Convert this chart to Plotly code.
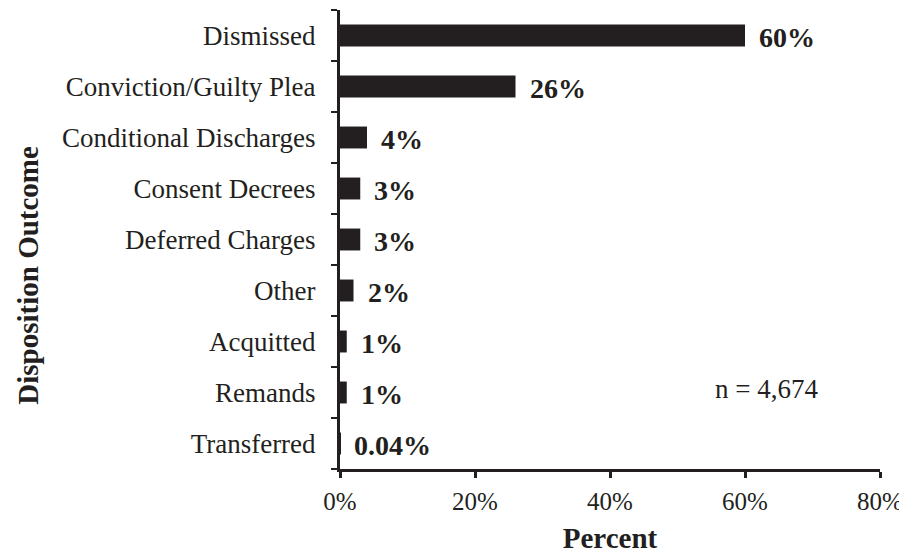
import plotly.graph_objects as go

# Data
outcomes = ["Dismissed", "Conviction/Guilty Plea", "Conditional Discharges",
            "Consent Decrees", "Deferred Charges", "Other", "Acquitted",
            "Remands", "Transferred"]
percent = [60, 26, 4, 3, 3, 2, 1, 1, 0.04]
labels = ["60%", "26%", "4%", "3%", "3%", "2%", "1%", "1%", "0.04%"]
x_ticks = [0, 20, 40, 60, 80]
x_ticktext = ["0%", "20%", "40%", "60%", "80%"]

FONT = "Liberation Serif"
INK = "#231f20"

fig = go.Figure()
fig.add_trace(go.Bar(
    x=percent, y=outcomes, orientation="h",
    marker=dict(color=INK, line=dict(width=0)),
    showlegend=False,
))

# value labels beside each bar
for v, cat, lab in zip(percent, outcomes, labels):
    fig.add_annotation(x=v, y=cat, text="<b>%s</b>" % lab, showarrow=False,
                       xanchor="left", xshift=12, yshift=-2,
                       font=dict(family=FONT, size=28, color=INK))

fig.add_annotation(x=63.2, y="Remands", text="n = 4,674", showarrow=False,
                   xanchor="center", yshift=4,
                   font=dict(family=FONT, size=27, color=INK))

# y axis title placed by hand (it sits below the plot centre in the original)
fig.add_annotation(xref="paper", yref="paper", x=-0.578, y=0.423,
                   text="<b>Disposition Outcome</b>", textangle=-90,
                   showarrow=False, xanchor="center", yanchor="middle",
                   font=dict(family=FONT, size=29, color=INK))

# the html page has an 8px body margin, so the figure is drawn 8px smaller
fig.update_layout(
    width=899, height=546,
    margin=dict(l=332, r=27, t=2, b=85),
    plot_bgcolor="white", paper_bgcolor="white",
    bargap=0.57,
    font=dict(family=FONT, size=27, color=INK),
)
fig.update_xaxes(
    range=[0, 80], tickvals=x_ticks, ticktext=x_ticktext,
    showgrid=False, zeroline=False, automargin=False,
    showline=True, linecolor=INK, linewidth=3,
    ticks="outside", ticklen=6, tickwidth=3, tickcolor=INK,
    ticklabelstandoff=2, tickfont=dict(size=25),
    title=dict(text="<b>Percent</b>", font=dict(family=FONT, size=29), standoff=16),
)
fig.update_yaxes(
    categoryorder="array", categoryarray=outcomes[::-1],
    autorange=False, range=[-0.5, 8.5],
    showgrid=False, zeroline=False, automargin=False,
    showline=True, linecolor=INK, linewidth=3,
    ticks="outside", ticklen=6, tickwidth=2, tickcolor=INK,
    tickson="boundaries", ticklabelstandoff=16,
)

fig.write_html("out.html")
